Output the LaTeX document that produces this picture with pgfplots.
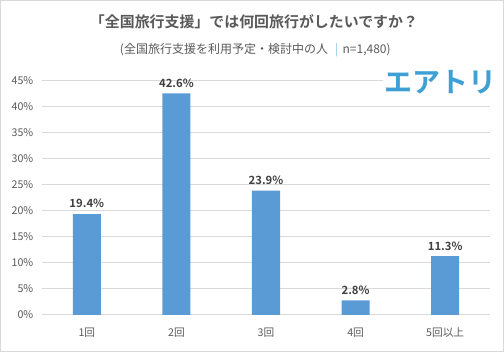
\documentclass[border=0pt]{standalone}
\usepackage{pgfplots}
\pgfplotsset{compat=1.18}
\usepackage{fontspec}
\setmainfont{Noto Sans CJK JP}[BoldFont={Noto Sans CJK JP Bold}]
\definecolor{barblue}{HTML}{5B9BD5}
\definecolor{txtgray}{HTML}{595959}
\definecolor{lblgray}{HTML}{404040}
\definecolor{gridgray}{HTML}{D9D9D9}
\definecolor{logoblue}{HTML}{3FA0D5}
\begin{document}
\begin{tikzpicture}[x=1pt,y=1pt]
\draw[gridgray,line width=0.75pt] (0.375,0.375) rectangle (377.625,263.625);
\begin{axis}[
  at={(31.5pt,27.75pt)}, anchor=south west,
  scale only axis, width=336pt, height=175.5pt,
  xmin=-0.5, xmax=4.5, ymin=0, ymax=45,
  ytick={0,5,...,45},
  yticklabel={\pgfmathprintnumber{\tick}\%},
  /pgf/number format/assume math mode=true,
  xtick=data,
  xticklabels={1回,2回,3回,4回,5回以上},
  axis line style={draw=none},
  major tick length=0pt,
  ymajorgrids, grid style={gridgray,line width=0.75pt},
  tick label style={font=\fontsize{8}{9}\selectfont, text=txtgray},
  yticklabel style={xshift=-3pt},
  xticklabel style={yshift=-6pt},
  nodes near coords={\pgfmathprintnumber[fixed,precision=1,fixed zerofill]{\pgfplotspointmeta}\%},
  every node near coord/.append style={font=\bfseries\fontsize{8.5}{10}\selectfont, text=lblgray, yshift=1pt},
  clip=false,
]
\addplot[ybar, bar width=21pt, fill=barblue, draw=none] coordinates {
(0,19.4) (1,42.6) (2,23.9) (3,2.8) (4,11.3)
};
\end{axis}
\node[font=\bfseries\fontsize{11.2}{13}\selectfont, text=txtgray] at (190.5,248) {「全国旅行支援」では何回旅行がしたいですか？};
\node[font=\fontsize{9}{11}\selectfont, text=txtgray] at (191.5,226.5) {(全国旅行支援を利用予定・検討中の人\hspace{0.6em}\textcolor{logoblue!60}{|}\hspace{0.35em}n=1,480)};
\node[fill=white, inner sep=1pt, font=\bfseries\fontsize{21}{24}\selectfont, text=logoblue] at (330,202) {エアトリ};
\end{tikzpicture}
\end{document}
